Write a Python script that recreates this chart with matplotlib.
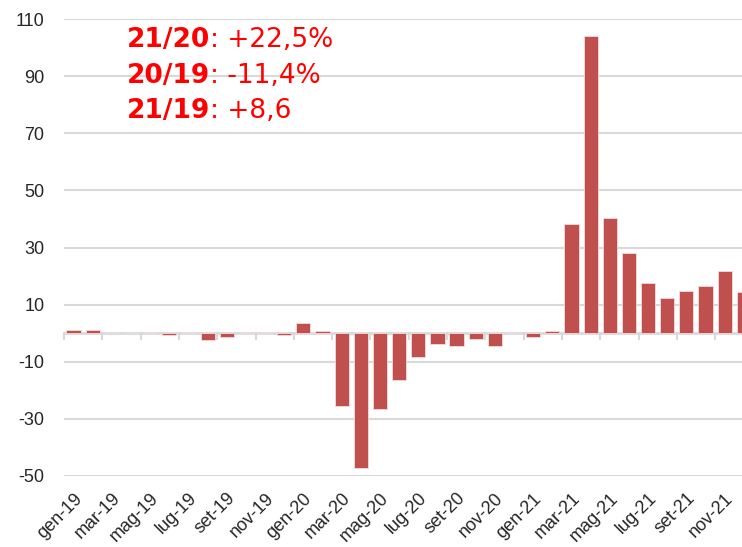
import matplotlib
matplotlib.use("Agg")
import matplotlib.pyplot as plt
import numpy as np

plt.rcParams['font.family'] = ['Liberation Sans', 'DejaVu Sans']

months = ["gen", "feb", "mar", "apr", "mag", "giu", "lug", "ago", "set", "ott", "nov", "dic"]
years = ["19", "20", "21"]
categories = [f"{m}-{y}" for y in years for m in months]

values = [1.2, 1.2, 0.0, 0.0, 0.0, -0.6, 0.0, -2.3, -1.4, 0.0, 0.0, -0.6,
          3.4, 0.8, -25.6, -47.3, -26.4, -16.4, -8.3, -3.8, -4.5, -2.0, -4.5, 0.0,
          -1.3, 0.8, 38.2, 104.0, 40.3, 28.1, 17.6, 12.3, 14.8, 16.4, 21.9, 14.3]

yticks = [-50, -30, -10, 10, 30, 50, 70, 90, 110]

ann_bold = ["21/20", "20/19", "21/19"]
ann_rest = [": +22,5%", ": -11,4%", ": +8,6"]

W, H = 742, 547
fig = plt.figure(figsize=(W / 100, H / 100), dpi=100)
left_px, right_px, top_px, bot_px = 64, 753.4, 19, 476
ax = fig.add_axes([left_px / W, 1 - bot_px / H, (right_px - left_px) / W, (bot_px - top_px) / H])

x = np.arange(len(categories))
ax.bar(x, values, width=0.74, color="#C0504D", edgecolor="#F2DCDB", linewidth=0.6, zorder=3)

ax.set_xlim(-0.5, len(categories) - 0.5)
ax.set_ylim(-50, 110)
ax.set_yticks(yticks)
ax.set_yticklabels([str(v) for v in yticks])
for v in yticks:
    ax.axhline(v, color="#D9D9D9", linewidth=1.5, zorder=1)
ax.axhline(0, color="#D9D9D9", linewidth=2.0, zorder=2)

for s in ax.spines.values():
    s.set_visible(False)

ax.set_xticks(x[::2])
ax.set_xticklabels(categories[::2], rotation=45, ha="right", va="top", rotation_mode="anchor")
ax.tick_params(axis="x", length=0, pad=10, labelsize=13, colors="#262626")
ax.tick_params(axis="y", length=0, pad=14, labelsize=13, colors="#262626")

# boundary tick marks on the zero line
for b in np.arange(-0.5, len(categories), 2):
    ax.plot([b, b], [0, -2.0], color="#D9D9D9", linewidth=1.5, zorder=2, clip_on=False)

# annotations
ys_px = [46.7, 82.7, 118.3]
afam = ['DejaVu Sans']
for bt, rt, yp in zip(ann_bold, ann_rest, ys_px):
    t = fig.text(126.7 / W, 1 - yp / H, bt, color="red", fontsize=19, fontweight="bold",
                 va="baseline", ha="left", family=afam)
    fig.canvas.draw()
    bb = t.get_window_extent()
    fig.text(bb.x1 / W, 1 - yp / H, rt, color="red", fontsize=19, va="baseline", ha="left", family=afam)

fig.savefig("out.png", dpi=100)
